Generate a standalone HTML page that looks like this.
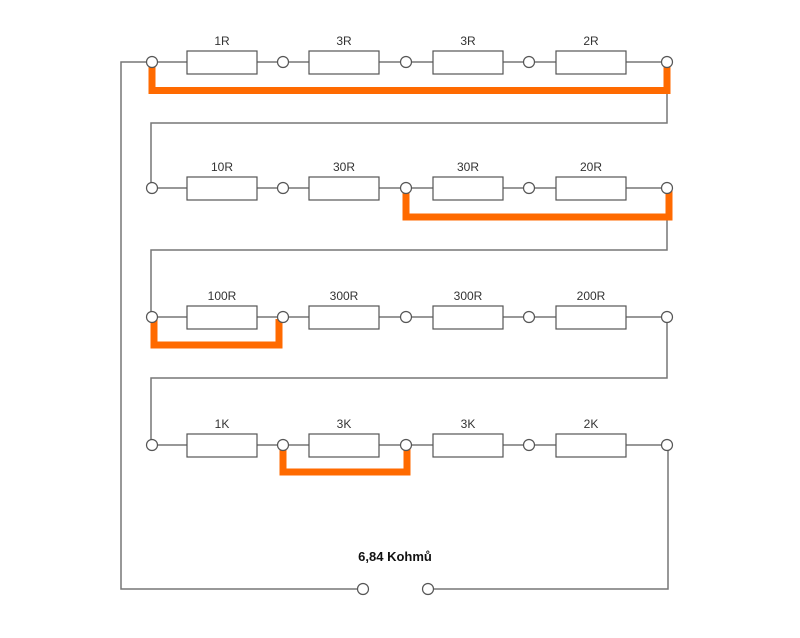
<!DOCTYPE html>
<html><head><meta charset="utf-8"><style>
html,body{margin:0;padding:0;background:#fff;}
svg{display:block;}
text{font-family:"Liberation Sans",Arial,sans-serif;font-size:12px;fill:#333;}
</style></head><body>
<svg width="800" height="638" viewBox="0 0 800 638" xmlns="http://www.w3.org/2000/svg">
<g stroke="#777" stroke-width="1.5" fill="none">
<!-- outer left loop -->
<polyline points="152,62 121,62 121,589 357,589"/>
<polyline points="434,589 668,589 668,445"/>
<!-- row connectors -->
<polyline points="667,62 667,123 151,123 151,188"/>
<polyline points="667,188 667,250 151,250 151,317"/>
<polyline points="667,317 667,378 151,378 151,445"/>
<!-- row wires -->
<line x1="152" y1="62" x2="667" y2="62"/>
<line x1="152" y1="188" x2="667" y2="188"/>
<line x1="152" y1="317" x2="667" y2="317"/>
<line x1="152" y1="445" x2="667" y2="445"/>
</g>
<!-- orange shorts -->
<g stroke="#ff6a00" stroke-width="7" fill="none" stroke-linejoin="miter">
<polyline points="152,64 152,90.5 667,90.5 667,64"/>
<polyline points="406,190 406,217 669,217 669,190"/>
<polyline points="154,319 154,345 279,345 279,319"/>
<polyline points="283,447 283,472 407,472 407,447"/>
</g>
<!-- resistors -->
<g fill="#fff" stroke="#555" stroke-width="1.2">
<rect x="187" y="51" width="70" height="23"/><rect x="309" y="51" width="70" height="23"/><rect x="433" y="51" width="70" height="23"/><rect x="556" y="51" width="70" height="23"/>
<rect x="187" y="177" width="70" height="23"/><rect x="309" y="177" width="70" height="23"/><rect x="433" y="177" width="70" height="23"/><rect x="556" y="177" width="70" height="23"/>
<rect x="187" y="306" width="70" height="23"/><rect x="309" y="306" width="70" height="23"/><rect x="433" y="306" width="70" height="23"/><rect x="556" y="306" width="70" height="23"/>
<rect x="187" y="434" width="70" height="23"/><rect x="309" y="434" width="70" height="23"/><rect x="433" y="434" width="70" height="23"/><rect x="556" y="434" width="70" height="23"/>
</g>
<!-- terminals -->
<g fill="#fff" stroke="#555" stroke-width="1.2">
<circle cx="152" cy="62" r="5.5"/><circle cx="283" cy="62" r="5.5"/><circle cx="406" cy="62" r="5.5"/><circle cx="529" cy="62" r="5.5"/><circle cx="667" cy="62" r="5.5"/>
<circle cx="152" cy="188" r="5.5"/><circle cx="283" cy="188" r="5.5"/><circle cx="406" cy="188" r="5.5"/><circle cx="529" cy="188" r="5.5"/><circle cx="667" cy="188" r="5.5"/>
<circle cx="152" cy="317" r="5.5"/><circle cx="283" cy="317" r="5.5"/><circle cx="406" cy="317" r="5.5"/><circle cx="529" cy="317" r="5.5"/><circle cx="667" cy="317" r="5.5"/>
<circle cx="152" cy="445" r="5.5"/><circle cx="283" cy="445" r="5.5"/><circle cx="406" cy="445" r="5.5"/><circle cx="529" cy="445" r="5.5"/><circle cx="667" cy="445" r="5.5"/>
<circle cx="363" cy="589" r="5.5"/><circle cx="428" cy="589" r="5.5"/>
</g>
<g text-anchor="middle">
<text x="222" y="45">1R</text><text x="344" y="45">3R</text><text x="468" y="45">3R</text><text x="591" y="45">2R</text>
<text x="222" y="171">10R</text><text x="344" y="171">30R</text><text x="468" y="171">30R</text><text x="591" y="171">20R</text>
<text x="222" y="300">100R</text><text x="344" y="300">300R</text><text x="468" y="300">300R</text><text x="591" y="300">200R</text>
<text x="222" y="428">1K</text><text x="344" y="428">3K</text><text x="468" y="428">3K</text><text x="591" y="428">2K</text>
<text x="395" y="561" style="font-weight:bold;font-size:13px;fill:#111">6,84 Kohmů</text>
</g>
</svg>
</body></html>
